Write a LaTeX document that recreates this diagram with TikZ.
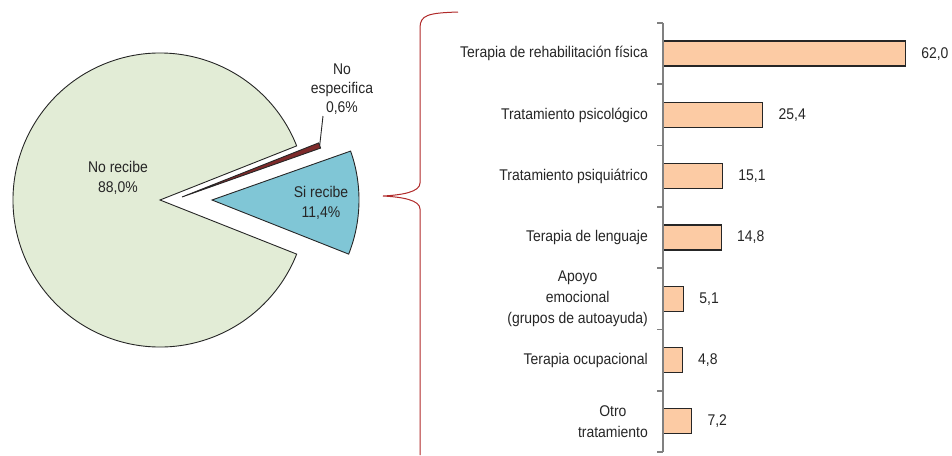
\documentclass[tikz,border=0pt]{standalone}
\usepackage{fontspec}
\setmainfont[FakeStretch=0.9]{Liberation Sans}
\usepackage{xcolor}
\usetikzlibrary{calc,positioning}
\definecolor{sliceno}{HTML}{E2ECD6}
\definecolor{slicesi}{HTML}{80C6D6}
\definecolor{sliceesp}{HTML}{7E2A2A}
\definecolor{barfill}{HTML}{FCCBA4}
\definecolor{bracered}{HTML}{B02A2A}
\tikzset{every picture/.style={x=1pt,y=1pt}}
\tikzstyle{pie_slice} =
  [ draw=black!85
  , line width=0.9pt
  ]
\tikzstyle{pie_label} =
  [ align=center
  , text=black!85
  , font=\fontsize{15.5}{20}\selectfont
  ]
\tikzstyle{bar_box} =
  [ draw=black!85
  , line width=1.3pt
  , fill=barfill
  , anchor=west
  , minimum height=25pt
  , inner sep=0pt
  ]
\tikzstyle{category_label} =
  [ align=center
  , inner sep=0pt
  , text=black!85
  , font=\fontsize{15.5}{21}\selectfont
  ]
\tikzstyle{value_label} =
  [ inner sep=0pt
  , text=black!85
  , font=\fontsize{15.5}{20}\selectfont
  ]
\tikzstyle{axis_line} =
  [ draw=black!50
  , line width=1.6pt
  ]
\tikzstyle{brace_line} =
  [ draw=bracered
  , line width=1pt
  ]
\def\PieRadius{147pt}

\begin{document}
\begin{tikzpicture}
    \useasboundingbox (0,0) rectangle (952,-455);

    % pie
    \coordinate (no_center)  at (160,-200);
    \coordinate (si_center)  at (212,-200);
    \coordinate (esp_center) at (182,-197);
    \filldraw[pie_slice, fill=sliceno]  (no_center)  -- ++(21.6:\PieRadius)  arc[start angle=21.6,  end angle=338.4, radius=\PieRadius] -- cycle;
    \filldraw[pie_slice, fill=slicesi]  (si_center)  -- ++(-21.6:\PieRadius) arc[start angle=-21.6, end angle=19.44, radius=\PieRadius] -- cycle;
    \filldraw[pie_slice, fill=sliceesp] (esp_center) -- ++(19.44:\PieRadius) arc[start angle=19.44, end angle=21.6,  radius=\PieRadius] -- cycle;

    \node[pie_label] (no_label)  at (118,-178) {No recibe\\88,0\%};
    \node[pie_label] (si_label)  at (321,-203) {Si recibe\\11,4\%};
    \node[pie_label, font=\fontsize{15.5}{19}\selectfont] (esp_label) at (342,-89) {No\\especifica\\0,6\%};
    \coordinate (esp_tip)   at ($(esp_center)+(20.5:\PieRadius)$);
    \coordinate (esp_elbow) at (323,-116);
    \draw[black!85, line width=0.9pt] (esp_tip) -- (esp_elbow);

    % brace
    \coordinate (brace_top)    at (458,-12);
    \coordinate (brace_tip)    at (383,-196);
    \coordinate (brace_bottom) at (420,-455);
    \draw[brace_line] (brace_top) .. controls (428,-13) and (420,-15) .. (420,-28)
        -- (420,-183) .. controls (420,-192) and (402,-195) .. (brace_tip)
        .. controls (402,-197) and (420,-200) .. (420,-209) -- (brace_bottom);

    % bars
    \node[bar_box, minimum width=241.8pt] (bar_fisica)   at (663,-53.6)  {};
    \node[bar_box, minimum width=99.1pt]  (bar_psicol)   at (663,-114.9) {};
    \node[bar_box, minimum width=58.9pt]  (bar_psiqui)   at (663,-176.2) {};
    \node[bar_box, minimum width=57.7pt]  (bar_lenguaje) at (663,-237.5) {};
    \node[bar_box, minimum width=19.9pt]  (bar_apoyo)    at (663,-298.8) {};
    \node[bar_box, minimum width=18.7pt]  (bar_ocupa)    at (663,-360.0) {};
    \node[bar_box, minimum width=28.1pt]  (bar_otro)     at (663,-421.3) {};

    \node[category_label, left=15pt of bar_fisica]   (cat_fisica)   {Terapia de rehabilitación física};
    \node[category_label, left=15pt of bar_psicol]   (cat_psicol)   {Tratamiento psicológico};
    \node[category_label, left=15pt of bar_psiqui]   (cat_psiqui)   {Tratamiento psiquiátrico};
    \node[category_label, left=15pt of bar_lenguaje] (cat_lenguaje) {Terapia de lenguaje};
    \node[category_label, left=15pt of bar_apoyo]    (cat_apoyo)    {Apoyo\\emocional\\(grupos de autoayuda)};
    \node[category_label, left=15pt of bar_ocupa]    (cat_ocupa)    {Terapia ocupacional};
    \node[category_label, left=15pt of bar_otro]     (cat_otro)     {Otro\\tratamiento};

    \node[value_label, right=15pt of bar_fisica]   (val_fisica)   {62,0};
    \node[value_label, right=15pt of bar_psicol]   (val_psicol)   {25,4};
    \node[value_label, right=15pt of bar_psiqui]   (val_psiqui)   {15,1};
    \node[value_label, right=15pt of bar_lenguaje] (val_lenguaje) {14,8};
    \node[value_label, right=15pt of bar_apoyo]    (val_apoyo)    {5,1};
    \node[value_label, right=15pt of bar_ocupa]    (val_ocupa)    {4,8};
    \node[value_label, right=15pt of bar_otro]     (val_otro)     {7,2};

    \draw[axis_line] (663,-23) -- (663,-452);
    \foreach \k in {0,...,7}
      \draw[axis_line] (657,-23-61.29*\k) -- (663,-23-61.29*\k);
  \end{tikzpicture}
\end{document}
